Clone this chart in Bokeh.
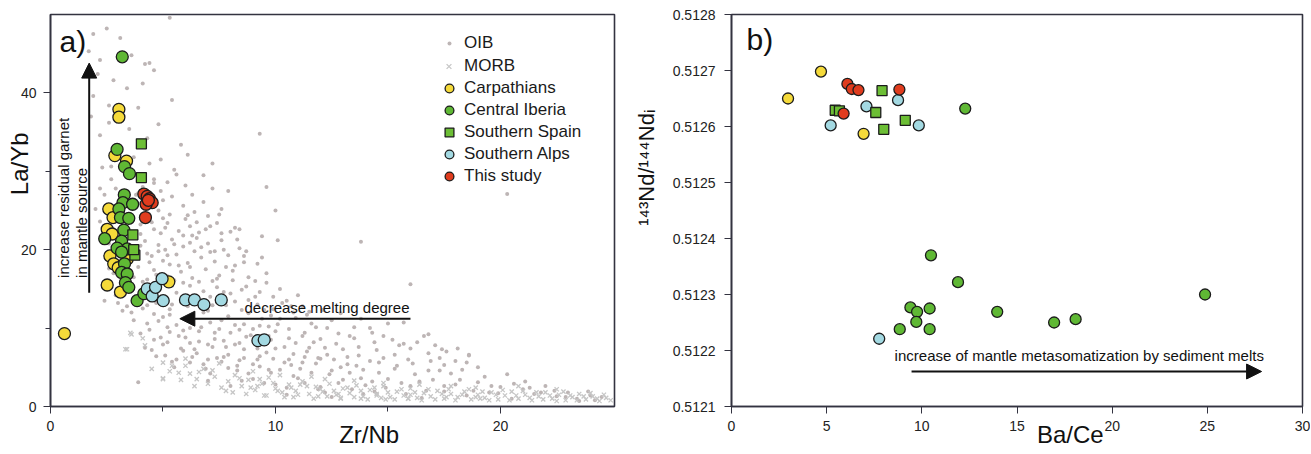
import math
from bokeh.plotting import figure
from bokeh.layouts import row
from bokeh.models import (Range1d, FixedTicker, PrintfTickFormatter, Label, Arrow,
                          NormalHead, Legend, LegendItem)
from bokeh.embed import file_html
from bokeh.resources import INLINE

FONT = "Liberation Sans"
NB = "\u00a0"

# ---------------- Panel a data: Zr/Nb vs La/Yb ----------------
oib_zrnb = [1.9, 2.5, 3.1, 5.3, 1.7, 2.2, 3.6, 4.4, 2.1, 2.8, 4.1, 3.4, 1.9, 5.4, 2.6, 3.9, 1.8, 2.6, 4.8, 3.5,
            2.2, 4.3, 5.8, 3.0, 6.1, 4.9, 2.7, 5.5, 9.3, 7.2, 6.8, 9.6, 10.0, 13.8, 7.5, 7.9, 20.3, 16.0, 8.4, 8.0,
            9.4, 10.1, 4.6, 4.2,
            3.8, 4.6, 5.2, 6.0, 4.1, 5.6, 3.9, 4.9, 5.4, 6.3, 5.0, 6.8, 7.2, 3.6, 4.8, 5.3, 5.9, 6.4, 7.0, 7.6,
            5.0, 6.0, 4.0, 4.6, 5.2, 5.7, 6.2, 6.9, 7.4, 8.2, 4.9, 4.2, 4.8, 5.4, 5.9, 6.5, 7.0, 7.6, 8.4, 5.1,
            6.2, 4.5, 5.0, 5.6, 6.1, 6.7, 7.3, 7.9, 8.6, 9.4, 5.3, 6.4, 4.6, 5.2, 5.8, 6.3, 6.9, 7.5, 8.1, 8.8,
            9.6, 5.5, 7.2, 5.6, 6.2, 6.8, 7.4, 8.0, 8.7, 9.3, 10.2, 11.0, 6.0, 4.1, 4.7, 5.3, 6.1, 7.0, 7.8, 8.5,
            9.2, 9.9, 10.7, 11.5, 8.8, 3.7, 4.3, 5.0, 5.6, 6.3, 7.1, 7.9, 8.6, 9.4, 10.1, 10.9, 11.6, 12.5, 13.8,
            15.0, 4.0, 4.6, 5.3, 6.0, 6.6, 7.3, 8.0, 8.7, 10.0, 10.6, 11.3, 12.0, 12.8, 13.5, 14.3, 15.2, 16.6,
            4.5, 5.1, 5.8, 6.5, 7.2, 7.9, 8.6, 9.3, 10.0, 10.8, 11.5, 12.3, 13.0, 13.7, 14.5, 15.3, 16.0, 16.8,
            17.6, 18.6, 5.5, 6.2, 6.9, 7.6, 8.3, 9.0, 9.7, 10.4, 11.1, 11.8, 12.5, 13.2, 13.9, 14.6, 15.3, 16.1,
            16.8, 17.5, 18.3, 19.0, 18.5, 3.9, 7.0, 8.0, 9.0, 10.0, 11.0, 12.0, 13.0, 14.0, 15.0, 16.0, 17.0, 18.0,
            19.0, 20.0, 20.3, 21.0, 22.0, 23.0, 24.0, 10.5, 12.5, 14.5, 16.5, 18.5, 20.5, 22.5, 24.2, 23.5, 21.5,
            19.5, 17.5, 2.7, 2.9, 2.4, 2.0, 3.6, 3.4, 2.8, 3.0, 3.6, 2.9, 3.2, 2.6,
            3.9, 4.3, 4.9, 5.4, 5.9, 6.6, 7.1, 7.7, 4.6, 5.2, 5.9, 6.7, 7.5, 8.2, 9.0, 9.7, 6.2, 7.0, 7.7, 8.4,
            9.1, 9.8, 5.0, 5.6, 6.3, 7.0, 7.7, 8.4, 9.2, 9.9, 10.6, 11.3, 12.0, 4.2, 4.8, 5.9, 6.6, 7.1, 7.7, 8.2,
            8.7, 9.1, 9.9, 10.5, 11.2, 12.1, 12.9, 13.5, 14.2, 14.8, 15.7, 16.3, 17.1, 17.4, 18.0, 18.6, 17.3,
            15.7, 16.8, 3.2,
            4.0, 4.4, 4.1, 4.7, 4.3, 4.8, 4.4, 4.9, 4.2, 4.7, 5.1, 5.5, 5.2, 5.7, 5.4, 5.8, 5.3, 5.7, 5.2, 5.9,
            5.4, 6.1, 6.5, 6.3, 6.7, 6.2, 6.6, 6.4, 6.8, 6.2, 6.6, 6.4, 6.8, 7.1, 7.6, 7.3, 7.8, 7.4, 7.7, 7.2,
            7.6, 7.3, 7.8, 7.4, 7.9, 7.1, 8.3, 8.6, 8.1, 8.5, 8.2, 8.8, 8.4, 8.9, 8.2, 8.6, 8.3, 8.8, 8.5, 9.2,
            9.6, 9.1, 9.5, 9.8, 9.3, 9.7, 9.2, 9.6, 9.3, 9.8, 9.5, 10.3, 10.8, 10.2, 10.6, 10.9, 10.4, 10.7, 10.2,
            10.8, 10.5, 11.4, 11.8, 11.2, 11.7, 11.4, 11.9, 11.2, 11.6, 11.3, 11.9, 12.3, 12.7, 12.2, 12.6, 12.9,
            12.4, 12.8, 12.2, 13.3, 13.7, 13.2, 13.6, 13.3, 13.8, 13.4, 13.9, 14.4, 14.8, 14.2, 14.6, 14.3, 14.9,
            14.4, 15.5, 15.9, 15.4, 16.2, 15.6, 16.4, 15.8, 16.7, 16.9, 17.3, 17.8, 18.2, 17.5, 18.8, 19.3, 19.6,
            18.1, 19.9, 20.6, 21.3, 21.8, 22.4, 22.9, 23.4, 23.9, 24.5, 21.1,
            2.3, 3.7, 4.4, 3.8, 4.6, 2.2, 4.5, 4.0, 2.2, 4.3, 3.7, 2.6, 2.4, 3.4]
oib_layb = [47.5, 48.2, 47.0, 49.6, 45.3, 44.2, 44.8, 43.8, 42.4, 41.6, 41.2, 40.6, 39.6, 39.1, 38.4, 38.1, 37.0,
            36.2, 36.0, 35.4, 34.6, 34.2, 33.4, 33.1, 32.1, 31.5, 30.6, 30.2, 34.8, 31.0, 29.5, 28.0, 25.0, 21.0,
            24.5, 27.5, 27.1, 15.6, 22.6, 22.3, 21.7, 21.2, 42.9, 43.7,
            29.5, 29.0, 28.6, 28.2, 28.0, 29.6, 27.2, 27.5, 26.8, 27.0, 26.3, 26.1, 27.8, 25.5, 25.0, 24.5, 25.6,
            24.8, 24.3, 25.2, 24.0, 23.9, 23.2, 22.6, 23.4, 22.4, 23.0, 22.6, 23.4, 22.8, 22.1, 21.1, 20.6, 21.3,
            20.4, 21.5, 20.8, 21.2, 20.2, 20.0, 20.9, 19.2, 18.6, 19.4, 18.3, 19.0, 18.5, 19.3, 18.4, 19.0, 18.1,
            19.8, 17.4, 16.6, 17.2, 16.4, 17.5, 16.7, 17.3, 16.5, 17.0, 16.1, 16.0, 14.5, 15.4, 14.7, 15.2, 14.4,
            15.3, 14.6, 15.0, 14.2, 14.0, 12.5, 13.2, 12.4, 12.8, 12.2, 12.9, 12.3, 13.0, 12.4, 12.8, 12.1, 13.6,
            11.0, 10.6, 11.4, 10.4, 11.2, 10.7, 11.5, 10.5, 11.2, 10.5, 11.3, 10.6, 11.0, 11.2, 10.6, 9.3, 8.5,
            9.5, 8.8, 9.6, 8.6, 9.4, 8.9, 9.6, 8.7, 9.4, 8.6, 9.3, 8.7, 9.4, 8.5, 9.0, 7.2, 6.5, 7.4, 6.8, 7.6,
            6.6, 7.3, 6.4, 7.4, 6.7, 7.5, 6.6, 7.3, 6.5, 7.2, 6.6, 7.4, 6.8, 7.0, 6.5, 5.0, 5.6, 4.8, 5.7, 4.6,
            5.4, 4.7, 5.6, 4.8, 5.5, 4.6, 5.4, 4.7, 5.6, 4.8, 5.5, 4.6, 5.3, 4.7, 5.0, 5.6, 3.1, 3.3, 2.6, 3.5,
            2.8, 3.6, 2.5, 3.4, 2.7, 3.5, 2.6, 3.4, 2.8, 3.1, 2.5, 4.1, 2.2, 2.6, 1.8, 1.4, 1.5, 1.2, 1.6, 1.1,
            1.4, 1.0, 1.3, 0.8, 0.7, 1.6, 1.8, 1.9, 29.0, 27.8, 27.0, 25.2, 23.5, 19.0, 17.0, 13.2, 12.0, 14.2,
            22.8, 20.8,
            17.8, 16.2, 13.8, 13.0, 15.8, 13.4, 14.0, 13.4, 11.8, 10.1, 9.7, 10.1, 9.9, 10.4, 9.9, 10.2, 8.1, 7.9,
            8.4, 8.1, 8.2, 8.5, 7.9, 6.0, 6.3, 6.0, 6.3, 5.9, 6.0, 6.1, 6.0, 6.3, 6.1, 13.8, 19.8, 21.8, 22.2,
            19.7, 20.0, 18.0, 19.8, 16.0, 14.0, 13.5, 12.8, 12.3, 11.9, 10.1, 10.0, 9.0, 8.0, 8.2, 7.8, 7.3, 5.8,
            6.6, 4.6, 10.7, 9.2, 12.2,
            20.5, 18.4, 15.9, 16.8, 12.9, 10.9, 9.8, 8.8, 7.5, 6.4, 22.8, 20.7, 19.3, 18.0, 15.4, 13.6, 11.7, 9.0,
            8.2, 7.1, 5.7, 24.4, 23.5, 21.8, 20.3, 17.8, 15.9, 14.1, 12.0, 10.0, 8.3, 7.3, 5.4, 23.0, 22.1, 19.8,
            17.8, 16.3, 14.6, 12.9, 11.0, 9.4, 7.6, 6.2, 4.9, 4.2, 21.3, 19.2, 16.1, 14.9, 13.4, 11.9, 9.8, 9.1,
            7.9, 6.2, 5.2, 4.2, 3.3, 18.2, 15.8, 14.0, 12.3, 11.6, 10.3, 9.0, 7.4, 6.9, 5.1, 4.3, 3.0, 13.2, 12.0,
            11.2, 9.9, 8.1, 7.6, 5.3, 4.7, 3.9, 2.4, 11.7, 10.1, 9.0, 8.2, 7.0, 6.2, 5.6, 4.3, 3.0, 2.2, 10.0, 8.0,
            7.5, 6.0, 5.0, 4.1, 3.0, 1.8, 9.0, 7.6, 6.3, 5.2, 4.3, 3.6, 2.2, 1.6, 8.2, 6.2, 5.8, 4.3, 3.2, 2.4,
            1.9, 7.8, 6.0, 5.2, 4.1, 3.0, 3.2, 1.6, 2.0, 5.8, 6.2, 4.2, 3.4, 2.6, 2.0, 3.8, 2.6, 7.4, 1.7, 2.9,
            2.4, 1.8, 2.0, 1.2, 1.0, 1.9, 1.2, 3.2,
            30.5, 31.8, 31.0, 27.0, 28.5, 27.8, 23.5, 22.0, 23.6, 19.5, 16.5, 17.6, 13.5, 12.8]

morb_zrnb = [3.55, 3.33, 4.1, 4.2, 5.0, 5.4, 5.7, 4.5, 5.0, 6.0, 3.4, 3.6, 5.0,
             6.2, 6.5, 6.8, 7.0, 7.3, 7.6, 7.9, 8.2, 8.5, 8.8, 9.1, 9.4, 9.7, 10.0, 10.3, 10.6, 10.9, 11.2, 11.5,
             11.8, 12.1, 12.4, 12.7, 13.0, 13.3, 13.6, 13.9, 14.2, 14.5, 14.8, 15.1, 15.4, 15.7, 16.0, 16.3, 16.6,
             16.9, 17.2, 17.5, 17.8, 18.1, 18.4, 18.7, 19.0, 19.3, 19.6, 19.9, 20.2, 20.5, 20.8, 21.1, 21.4, 21.7,
             22.0, 22.3, 22.6, 22.9, 23.2, 23.5, 23.8, 24.1, 24.4, 24.7, 7.5, 8.1, 9.0, 10.2, 11.6, 12.2, 13.5,
             14.8, 16.4, 17.8, 18.9, 20.8, 22.5, 9.6, 10.8, 11.9, 12.9, 13.8, 14.9, 15.9,
             5.3, 5.8, 6.0, 6.4, 6.6, 7.2, 7.8, 8.4, 8.7, 9.2, 9.5, 9.9, 10.4, 10.7, 11.0, 11.4, 11.7, 12.0, 12.3,
             12.6, 12.9, 13.2, 13.5, 13.8, 14.1, 14.4, 14.7, 15.0, 15.3, 15.6, 15.9, 16.2, 16.5, 16.8, 17.1, 17.4,
             17.7, 18.0, 18.3, 18.6, 18.9, 19.2, 19.5, 19.8, 20.1, 20.4, 20.7, 21.0, 21.3, 21.6, 21.9, 22.2, 22.5,
             22.8, 23.1, 23.4, 23.7, 24.0, 24.3, 24.6, 24.9, 8.9, 9.3, 10.1, 11.1, 12.8, 14.5, 16.0, 17.6, 19.1]
morb_layb = [9.4, 7.3, 8.7, 7.8, 5.6, 5.2, 4.3, 4.8, 3.6, 6.1, 7.3, 9.2, 3.5,
             4.2, 3.5, 4.8, 2.9, 3.8, 2.4, 3.2, 4.0, 2.6, 3.4, 2.1, 2.9, 3.7, 2.3, 1.8, 2.8, 2.0, 3.2, 1.6, 2.5,
             1.9, 2.9, 1.5, 2.3, 1.7, 2.7, 1.3, 2.1, 1.6, 2.6, 1.2, 1.9, 1.4, 2.3, 1.1, 1.7, 1.3, 2.0, 1.0, 1.6,
             1.2, 1.9, 0.9, 1.5, 1.1, 1.8, 0.9, 1.4, 1.9, 1.0, 1.5, 0.8, 1.3, 1.8, 1.0, 1.5, 0.8, 1.2, 1.6, 0.9,
             1.3, 0.7, 1.1, 5.5, 1.8, 4.5, 4.0, 3.8, 3.5, 3.3, 3.0, 2.8, 2.6, 2.4, 2.6, 2.2, 1.4, 1.2, 1.3, 1.1,
             1.0, 0.9, 1.0,
             4.5, 3.4, 5.2, 2.6, 4.4, 4.6, 2.0, 3.6, 1.6, 2.6, 1.4, 3.0, 1.2, 2.4, 1.5, 2.6, 1.0, 2.2, 1.3, 2.0,
             1.0, 2.4, 1.2, 2.0, 0.9, 2.4, 1.1, 1.8, 0.9, 2.2, 1.0, 1.8, 0.8, 2.2, 0.9, 1.6, 2.2, 0.8, 1.5, 2.2,
             1.2, 1.9, 0.8, 1.5, 2.1, 0.8, 1.4, 2.0, 1.1, 1.8, 0.9, 1.4, 0.7, 1.9, 1.4, 0.8, 1.3, 1.7, 1.0, 1.5,
             0.8, 2.4, 3.5, 2.0, 2.8, 1.6, 1.4, 1.5, 1.2, 1.0]

carp_zrnb = [0.62, 3.04, 3.04, 2.86, 3.38, 2.59, 2.78, 2.52, 2.74, 2.64, 2.81, 3.01, 3.41, 2.52, 3.11, 5.26]
carp_layb = [9.3, 37.9, 36.9, 32.0, 31.3, 25.2, 24.1, 22.6, 22.0, 19.2, 18.2, 17.7, 18.8, 15.5, 14.6, 15.9]

ciber_zrnb = [3.19, 2.96, 3.29, 3.51, 3.28, 3.22, 3.65, 3.04, 3.11, 3.48, 3.26, 2.41, 3.16, 3.41, 2.96, 3.16,
              3.29, 3.16, 3.41, 3.33, 3.48, 3.85, 4.15]
ciber_layb = [44.6, 32.8, 30.6, 29.7, 27.0, 26.0, 25.8, 25.2, 24.1, 24.0, 22.5, 21.4, 21.1, 20.1, 20.2, 19.7,
              18.2, 17.1, 16.9, 15.8, 15.2, 13.5, 14.4]

sspain_zrnb = [4.04, 4.04, 3.66, 3.75, 3.70]
sspain_layb = [33.5, 29.2, 21.9, 19.3, 20.0]

salps_zrnb = [4.3, 4.52, 4.67, 4.96, 5.01, 6.0, 6.4, 6.82, 7.59, 9.22, 9.5]
salps_layb = [15.0, 14.1, 15.2, 16.3, 13.5, 13.6, 13.6, 13.0, 13.6, 8.4, 8.5]

study_zrnb = [4.15, 4.3, 4.4, 4.52, 4.25, 4.35, 4.22]
study_layb = [27.1, 26.8, 26.5, 26.0, 25.8, 26.3, 24.1]

# ---------------- Panel b data: Ba/Ce vs 143Nd/144Nd(i) ----------------
carp_bace = [2.97, 4.70, 6.94]
carp_nd = [0.512650, 0.512698, 0.512587]
study_bace = [6.09, 6.32, 6.67, 8.82, 5.89]
study_nd = [0.512676, 0.512667, 0.512665, 0.512666, 0.512623]
sspain_bace = [5.45, 5.67, 7.91, 7.58, 9.13, 8.0]
sspain_nd = [0.512629, 0.512628, 0.512664, 0.512625, 0.512611, 0.512595]
salps_bace = [5.21, 7.09, 8.75, 9.84, 7.76]
salps_nd = [0.512602, 0.512636, 0.512647, 0.512602, 0.512221]
ciber_bace = [12.28, 10.48, 11.9, 24.88, 9.40, 9.75, 10.41, 9.71, 8.84, 10.41, 13.96, 16.95, 18.08]
ciber_nd = [0.512632, 0.512370, 0.512322, 0.512300, 0.512277, 0.512269, 0.512275, 0.512251, 0.512238,
            0.512238, 0.512269, 0.512250, 0.512256]

# ---------------- styles ----------------
YELLOW = "#f5da3a"
GREEN = "#5fb834"
SQGREEN = "#6cbe35"
BLUE = "#a3d9e2"
RED = "#e03c1e"
EDGE = "#1c1c1c"
AXC = "#333340"


def style(p):
    p.grid.visible = False
    p.outline_line_color = AXC
    p.outline_line_width = 1.6
    p.background_fill_color = "white"
    p.border_fill_color = "white"
    for ax in (p.xaxis[0], p.yaxis[0]):
        ax.axis_line_color = AXC
        ax.axis_line_width = 1.6
        ax.major_tick_line_color = AXC
        ax.minor_tick_line_color = AXC
        ax.major_tick_in = 0
        ax.major_tick_out = 7
        ax.minor_tick_in = 0
        ax.minor_tick_out = 5
        ax.major_label_text_font = FONT
        ax.major_label_text_color = "#222222"
        ax.axis_label_text_font = FONT
        ax.axis_label_text_font_style = "normal"
        ax.axis_label_text_color = "#111111"


# ================= Panel a =================
pa = figure(frame_width=564, frame_height=392, min_border_left=50, min_border_right=16,
            min_border_top=14, min_border_bottom=46, x_range=Range1d(0, 25.07), y_range=Range1d(0, 50),
            output_backend="svg", toolbar_location=None)
style(pa)
pa.xaxis.ticker = FixedTicker(ticks=[0, 10, 20], minor_ticks=[5, 15])
pa.yaxis.ticker = FixedTicker(ticks=[0, 20, 40], minor_ticks=[10, 30])
pa.xaxis.major_label_text_font_size = "14px"
pa.yaxis.major_label_text_font_size = "14px"
pa.xaxis.major_label_standoff = 7
pa.yaxis.major_label_standoff = 7
pa.xaxis.axis_label = NB * 11 + "Zr/Nb"
pa.xaxis.axis_label_text_font_size = "24px"
pa.xaxis.axis_label_standoff = -13
pa.yaxis.axis_label = NB * 14 + "La/Yb"
pa.yaxis.axis_label_text_font_size = "24px"
pa.yaxis.axis_label_standoff = -15

r_oib = pa.scatter(oib_zrnb, oib_layb, marker="circle", size=4, fill_color="#bdb5b5", line_color=None)
r_morb = pa.scatter(morb_zrnb, morb_layb, marker="x", size=6, line_color="#c6c6c6", line_width=1.3)
r_carp = pa.scatter(carp_zrnb, carp_layb, marker="circle", size=12, fill_color=YELLOW, line_color=EDGE, line_width=1.3)
r_cib = pa.scatter(ciber_zrnb, ciber_layb, marker="circle", size=12, fill_color=GREEN, line_color=EDGE, line_width=1.3)
r_ssp = pa.scatter(sspain_zrnb, sspain_layb, marker="square", size=10, fill_color=SQGREEN, line_color=EDGE, line_width=1.3)
r_sal = pa.scatter(salps_zrnb, salps_layb, marker="circle", size=12, fill_color=BLUE, line_color=EDGE, line_width=1.3)
r_std = pa.scatter(study_zrnb, study_layb, marker="circle", size=12, fill_color=RED, line_color=EDGE, line_width=1.3)


def mk_legend(items, gw, standoff, loc):
    lg = Legend(items=items, location=loc, orientation="vertical", padding=0, margin=0, spacing=0,
                glyph_width=gw, glyph_height=22, label_height=22, label_standoff=standoff,
                label_text_font=FONT, label_text_font_size="17px", label_text_color="#1a1a1a",
                border_line_alpha=0, background_fill_alpha=0)
    return lg


pa.add_layout(mk_legend([LegendItem(label="OIB", renderers=[r_oib])], 10, 10, (394, 352)))
pa.add_layout(mk_legend([LegendItem(label="MORB", renderers=[r_morb])], 17, 7, (390, 329)))
pa.add_layout(mk_legend([LegendItem(label="Carpathians", renderers=[r_carp]),
                         LegendItem(label="Central Iberia", renderers=[r_cib]),
                         LegendItem(label="Southern Spain", renderers=[r_ssp]),
                         LegendItem(label="Southern Alps", renderers=[r_sal]),
                         LegendItem(label="This study", renderers=[r_std])], 22, 4, (388, 219)))


def lab(p, x, y, text, size, align="center", angle=0.0, baseline="middle"):
    p.add_layout(Label(x=x, y=y, text=text, text_font=FONT, text_font_size=size, text_align=align,
                       text_baseline=baseline, angle=angle, text_color="#111111"))


lab(pa, 0.4, 46.6, "a)", "30px", align="left")
lab(pa, 0.6, 16.4, "increase residual garnet", "15px", align="left", angle=math.pi / 2)
lab(pa, 1.38, 16.4, "in mantle source", "15px", align="left", angle=math.pi / 2)
lab(pa, 15.96, 12.6, "decrease melting degree", "15px", align="right")
pa.add_layout(Arrow(end=NormalHead(size=15, fill_color="#111111", line_color="#111111"),
                    x_start=1.72, y_start=14.5, x_end=1.72, y_end=43.8, line_width=2, line_color="#111111"))
pa.add_layout(Arrow(end=NormalHead(size=15, fill_color="#111111", line_color="#111111"),
                    x_start=16.0, y_start=11.2, x_end=5.75, y_end=11.2, line_width=2, line_color="#111111"))

# ================= Panel b =================
pb = figure(frame_width=571, frame_height=392, min_border_left=101, min_border_right=8,
            min_border_top=14, min_border_bottom=46, x_range=Range1d(0, 30), y_range=Range1d(0.5121, 0.5128),
            output_backend="svg", toolbar_location=None)
style(pb)
pb.xaxis.ticker = FixedTicker(ticks=[0, 5, 10, 15, 20, 25, 30])
pb.yaxis.ticker = FixedTicker(ticks=[0.5121, 0.5122, 0.5123, 0.5124, 0.5125, 0.5126, 0.5127, 0.5128])
pb.yaxis.formatter = PrintfTickFormatter(format="%.4f")
pb.xaxis.major_label_text_font_size = "14px"
pb.yaxis.major_label_text_font_size = "14px"
pb.xaxis.major_label_standoff = 7
pb.yaxis.major_label_standoff = 9
pb.xaxis.axis_label = NB * 16 + "Ba/Ce"
pb.xaxis.axis_label_text_font_size = "24px"
pb.xaxis.axis_label_standoff = -13
pb.yaxis.axis_label = NB * 14 + "\u00b9\u2074\u00b3Nd/\u00b9\u2074\u2074Nd\u1d62"
pb.yaxis.axis_label_text_font_size = "22px"
pb.yaxis.axis_label_standoff = 11

pb.scatter(carp_bace, carp_nd, marker="circle", size=11, fill_color=YELLOW, line_color=EDGE, line_width=1.3)
pb.scatter(salps_bace, salps_nd, marker="circle", size=11, fill_color=BLUE, line_color=EDGE, line_width=1.3)
pb.scatter(sspain_bace, sspain_nd, marker="square", size=10, fill_color=SQGREEN, line_color=EDGE, line_width=1.3)
pb.scatter(study_bace, study_nd, marker="circle", size=11, fill_color=RED, line_color=EDGE, line_width=1.3)
pb.scatter(ciber_bace, ciber_nd, marker="circle", size=11, fill_color=GREEN, line_color=EDGE, line_width=1.3)

lab(pb, 0.79, 0.512755, "b)", "30px", align="left")
lab(pb, 8.57, 0.512191, "increase of mantle metasomatization by sediment melts", "15px", align="left")
pb.add_layout(Arrow(end=NormalHead(size=15, fill_color="#111111", line_color="#111111"),
                    x_start=9.46, y_start=0.5121625, x_end=27.85, y_end=0.5121625, line_width=2,
                    line_color="#111111"))

layout = row(pa, pb)
open("out.html", "w").write(file_html(layout, INLINE))
